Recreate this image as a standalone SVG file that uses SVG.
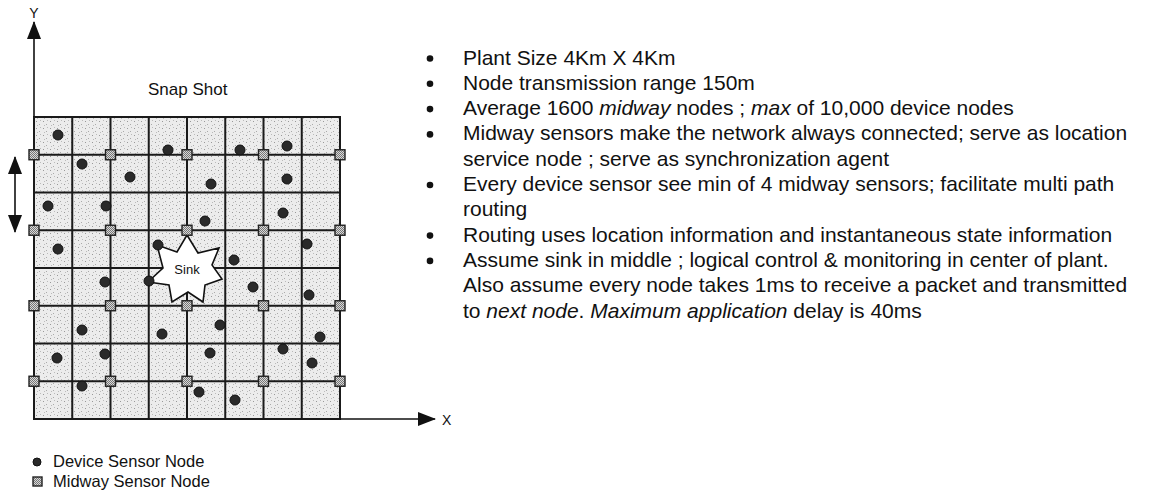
<svg xmlns="http://www.w3.org/2000/svg" width="1150" height="492" viewBox="0 0 1150 492">
<style>
text{font-family:"Liberation Sans",Arial,sans-serif;fill:#111}
.b{font-size:21px}
.i{font-style:italic}
.grid{stroke:#1a1a1a;stroke-width:2;fill:none}
.axis{stroke:#111;stroke-width:1.6;fill:none}
.dev{fill:#2a2a2a;stroke:#111;stroke-width:1}
.mid{fill:url(#chk);stroke:#222;stroke-width:1.4}
</style>
<defs>
<pattern id="stip" width="7" height="7" patternUnits="userSpaceOnUse">
<rect width="7" height="7" fill="#ececec"/>
<rect x="1" y="2" width="1" height="1" fill="#999"/>
<rect x="4" y="5" width="1" height="1" fill="#aaa"/>
<rect x="5" y="1" width="1" height="1" fill="#bbb"/>
<rect x="2" y="6" width="1" height="1" fill="#bbb"/>
</pattern>
<pattern id="chk" width="2" height="2" patternUnits="userSpaceOnUse">
<rect width="2" height="2" fill="#d8d8d8"/>
<rect width="1" height="1" fill="#777"/>
<rect x="1" y="1" width="1" height="1" fill="#777"/>
</pattern>
<marker id="ah" viewBox="0 0 18 14" refX="17" refY="7" markerWidth="18" markerHeight="14" markerUnits="userSpaceOnUse" orient="auto-start-reverse">
<path d="M0,0 L18,7 L0,14 Z" fill="#111"/>
</marker>
</defs>

<text x="34" y="18" font-size="14" text-anchor="middle">Y</text>
<text x="442" y="425" font-size="14">X</text>
<text x="148" y="95" font-size="17">Snap Shot</text>

<g id="grid">
<rect x="34" y="117" width="306" height="302" fill="url(#stip)"/>
<path class="grid" d="M34,117H340V419H34Z M72.25,117V419 M110.5,117V419 M148.75,117V419 M187,117V419 M225.25,117V419 M263.5,117V419 M301.75,117V419 M34,154.75H340 M34,192.5H340 M34,230.25H340 M34,268H340 M34,305.75H340 M34,343.5H340 M34,381.25H340"/>
</g>

<g id="connectors">
<line class="axis" x1="34" y1="117" x2="34" y2="22" marker-end="url(#ah)"/>
<line class="axis" x1="340" y1="419" x2="435" y2="419" marker-end="url(#ah)"/>
<line class="axis" x1="15" y1="157" x2="15" y2="232" marker-start="url(#ah)" marker-end="url(#ah)"/>
</g>

<g id="sink">
<polygon points="187,235 198,253 219,248 212,265 222,279 205,285 203,302 188,292 172,302 169,285 148,282 163,268 157,245 177,252" fill="#fff" stroke="#111" stroke-width="1.6" stroke-linejoin="miter"/>
<text x="187" y="274" font-size="13" text-anchor="middle">Sink</text>
</g>

<g id="device-nodes">
<circle class="dev" cx="58" cy="135" r="5"/>
<circle class="dev" cx="168" cy="150" r="5"/>
<circle class="dev" cx="240" cy="150" r="5"/>
<circle class="dev" cx="287" cy="146" r="5"/>
<circle class="dev" cx="82" cy="164" r="5"/>
<circle class="dev" cx="130" cy="177" r="5"/>
<circle class="dev" cx="211" cy="184" r="5"/>
<circle class="dev" cx="287" cy="179" r="5"/>
<circle class="dev" cx="48" cy="206" r="5"/>
<circle class="dev" cx="106" cy="206" r="5"/>
<circle class="dev" cx="205" cy="221" r="5"/>
<circle class="dev" cx="283" cy="213" r="5"/>
<circle class="dev" cx="58" cy="249" r="5"/>
<circle class="dev" cx="158" cy="245" r="5"/>
<circle class="dev" cx="234" cy="260" r="5"/>
<circle class="dev" cx="307" cy="244" r="5"/>
<circle class="dev" cx="105" cy="282" r="5"/>
<circle class="dev" cx="149" cy="281" r="5"/>
<circle class="dev" cx="253" cy="287" r="5"/>
<circle class="dev" cx="309" cy="295" r="5"/>
<circle class="dev" cx="82" cy="330" r="5"/>
<circle class="dev" cx="162" cy="334" r="5"/>
<circle class="dev" cx="220" cy="325" r="5"/>
<circle class="dev" cx="320" cy="337" r="5"/>
<circle class="dev" cx="57" cy="358" r="5"/>
<circle class="dev" cx="105" cy="354" r="5"/>
<circle class="dev" cx="210" cy="353" r="5"/>
<circle class="dev" cx="283" cy="349" r="5"/>
<circle class="dev" cx="312" cy="363" r="5"/>
<circle class="dev" cx="82" cy="386" r="5"/>
<circle class="dev" cx="199" cy="392" r="5"/>
<circle class="dev" cx="235" cy="400" r="5"/>
</g>

<g id="midway-nodes">
<rect class="mid" x="29" y="149.75" width="10" height="10"/>
<rect class="mid" x="105.5" y="149.75" width="10" height="10"/>
<rect class="mid" x="182" y="149.75" width="10" height="10"/>
<rect class="mid" x="258.5" y="149.75" width="10" height="10"/>
<rect class="mid" x="335" y="149.75" width="10" height="10"/>
<rect class="mid" x="29" y="225.25" width="10" height="10"/>
<rect class="mid" x="105.5" y="225.25" width="10" height="10"/>
<rect class="mid" x="182" y="225.25" width="10" height="10"/>
<rect class="mid" x="258.5" y="225.25" width="10" height="10"/>
<rect class="mid" x="335" y="225.25" width="10" height="10"/>
<rect class="mid" x="29" y="300.75" width="10" height="10"/>
<rect class="mid" x="105.5" y="300.75" width="10" height="10"/>
<rect class="mid" x="182" y="300.75" width="10" height="10"/>
<rect class="mid" x="258.5" y="300.75" width="10" height="10"/>
<rect class="mid" x="335" y="300.75" width="10" height="10"/>
<rect class="mid" x="29" y="376.25" width="10" height="10"/>
<rect class="mid" x="105.5" y="376.25" width="10" height="10"/>
<rect class="mid" x="182" y="376.25" width="10" height="10"/>
<rect class="mid" x="258.5" y="376.25" width="10" height="10"/>
<rect class="mid" x="335" y="376.25" width="10" height="10"/>
</g>

<g id="legend">
<circle class="dev" cx="37" cy="462" r="4"/>
<text x="53" y="467" font-size="16.5">Device Sensor Node</text>
<rect class="mid" x="33" y="477" width="9" height="9"/>
<text x="53" y="487" font-size="16.5">Midway Sensor Node</text>
</g>

<g id="notes">
<g fill="#111">
<circle cx="430" cy="58.5" r="3.3"/>
<circle cx="430" cy="83.8" r="3.3"/>
<circle cx="430" cy="109.1" r="3.3"/>
<circle cx="430" cy="134.4" r="3.3"/>
<circle cx="430" cy="185" r="3.3"/>
<circle cx="430" cy="235.6" r="3.3"/>
<circle cx="430" cy="260.9" r="3.3"/>
</g>
<text class="b" x="463" y="64.5">Plant Size 4Km X 4Km</text>
<text class="b" x="463" y="89.8">Node transmission range 150m</text>
<text class="b" x="463" y="115.1">Average 1600 <tspan class="i">midway</tspan> nodes ; <tspan class="i">max</tspan> of 10,000 device nodes</text>
<text class="b" x="463" y="140.4">Midway sensors make the network always connected; serve as location</text>
<text class="b" x="463" y="165.7">service node ; serve as synchronization agent</text>
<text class="b" x="463" y="191">Every device sensor see min of 4 midway sensors; facilitate multi path</text>
<text class="b" x="463" y="216.3">routing</text>
<text class="b" x="463" y="241.6">Routing uses location information and instantaneous state information</text>
<text class="b" x="463" y="266.9">Assume sink in middle ; logical control &amp; monitoring in center of plant.</text>
<text class="b" x="463" y="292.2">Also assume every node takes 1ms to receive a packet and transmitted</text>
<text class="b" x="463" y="317.5">to <tspan class="i">next node</tspan>. <tspan class="i">Maximum application</tspan> delay is 40ms</text>
</g>
</svg>
